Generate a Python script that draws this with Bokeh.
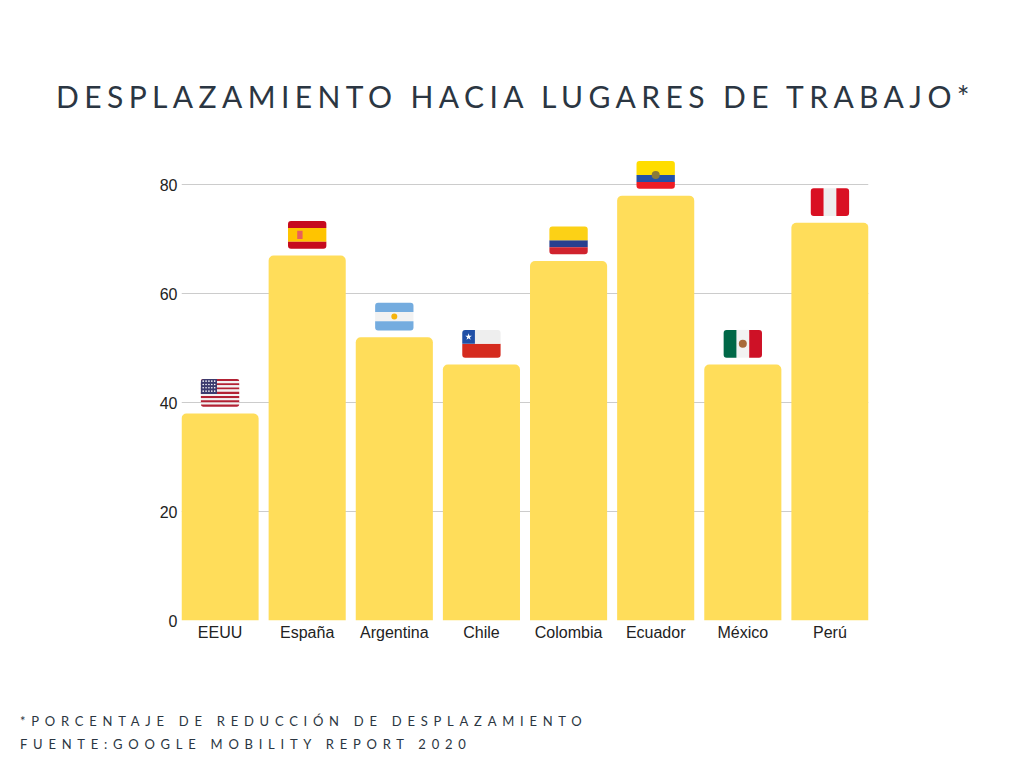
from bokeh.plotting import figure
from bokeh.models import Div, FixedTicker, ColumnDataSource
from bokeh.layouts import column
from bokeh.embed import file_html
from bokeh.resources import INLINE

# ---------------- data ----------------
categories = ["EEUU", "España", "Argentina", "Chile", "Colombia", "Ecuador", "México", "Perú"]
values = [38, 67, 52, 47, 66, 78, 47, 73]
y_ticks = [0, 20, 40, 60, 80]
title_text = "DESPLAZAMIENTO HACIA LUGARES DE TRABAJO*"
note_lines = ["*PORCENTAJE DE REDUCCIÓN DE DESPLAZAMIENTO",
              "FUENTE:GOOGLE MOBILITY REPORT 2020"]

# ---------------- style ----------------
BAR_COLOR = "#FFDD5A"
GRID_COLOR = "#CCCCCC"
TEXT_DARK = "#2B3642"
BAR_W = 0.885
FW = 0.44      # flag width (x units)
FH = 5.1       # flag height (y units)
FLAG_OFF = 3.8 # flag centre above bar top (y units)
R = 3

x_pos = list(range(len(categories)))

p = figure(width=1008, height=542,
           x_range=(-BAR_W / 2, len(categories) - 1 + BAR_W / 2),
           y_range=(0, 85),
           output_backend="svg", toolbar_location=None,
           min_border_left=181, min_border_right=140,
           min_border_top=29, min_border_bottom=50)
p.outline_line_color = None
p.background_fill_color = "white"
p.border_fill_color = "white"

p.xgrid.grid_line_color = None
p.ygrid.grid_line_color = GRID_COLOR
p.ygrid.grid_line_width = 1

p.yaxis.ticker = FixedTicker(ticks=y_ticks)
p.xaxis.ticker = FixedTicker(ticks=x_pos)
p.xaxis.major_label_overrides = {i: c for i, c in zip(x_pos, categories)}
for ax in (p.xaxis, p.yaxis):
    ax.axis_line_color = None
    ax.major_tick_line_color = None
    ax.minor_tick_line_color = None
    ax.major_tick_in = 0
    ax.major_tick_out = 0
    ax.major_label_text_font = "Liberation Sans"
    ax.major_label_text_font_size = "16px"
    ax.major_label_text_color = "#222222"
p.yaxis.major_label_standoff = 4
p.xaxis.major_label_standoff = 3

src = ColumnDataSource(dict(x=x_pos, top=values, name=categories))
p.vbar(x="x", top="top", bottom=0, width=BAR_W, source=src,
       fill_color=BAR_COLOR, line_color=None, border_radius=(5, 5, 0, 0))

# ---------------- flags (decorative, placed above each bar) ----------------
RED_US, WHITE, BLUE_US = "#B22234", "#F2F2F2", "#3C3B6E"
us = []
for k in range(13):
    us.append((0, (0, 1, 1 - (k + 1) / 13, 1 - k / 13, RED_US if k % 2 == 0 else WHITE)))
us.append((1, (0, 0.42, 6 / 13, 1, BLUE_US)))
spain = [(0, (0, 1, 0, 0.25, "#C60B1E")), (0, (0, 1, 0.25, 0.75, "#FFC400")),
         (0, (0, 1, 0.75, 1, "#C60B1E")), (1, (0.24, 0.38, 0.35, 0.65, "#E8605A"))]
argentina = [(0, (0, 1, 0, 1 / 3, "#74ACDF")), (0, (0, 1, 1 / 3, 2 / 3, WHITE)),
             (0, (0, 1, 2 / 3, 1, "#74ACDF"))]
chile = [(0, (0, 1, 0, 0.5, "#D52B1E")), (0, (0, 1, 0.5, 1, "#EEEEEE")),
         (1, (0, 0.33, 0.5, 1, "#1F4FA6"))]
colombia = [(0, (0, 1, 0.5, 1, "#FCD116")), (0, (0, 1, 0.25, 0.5, "#283F8F")),
            (0, (0, 1, 0, 0.25, "#D0232E"))]
ecuador = [(0, (0, 1, 0.5, 1, "#FFDD00")), (0, (0, 1, 0.25, 0.5, "#2350A8")),
           (0, (0, 1, 0, 0.25, "#EE1C25"))]
mexico = [(0, (0, 1 / 3, 0, 1, "#006847")), (0, (1 / 3, 2 / 3, 0, 1, WHITE)),
          (0, (2 / 3, 1, 0, 1, "#CE1126"))]
peru = [(0, (0, 1 / 3, 0, 1, "#D91023")), (0, (1 / 3, 2 / 3, 0, 1, "#EEEEEE")),
        (0, (2 / 3, 1, 0, 1, "#D91023"))]
flag_designs = [us, spain, argentina, chile, colombia, ecuador, mexico, peru]

# small emblems (flag index, fx, fy, marker, size, color)
emblems = [(2, 0.5, 0.5, "circle", 6, "#F6B40E"),
           (3, 0.165, 0.75, "star", 7, "white"),
           (5, 0.5, 0.5, "circle", 8, "#8A7A3A"),
           (6, 0.5, 0.5, "circle", 8, "#A86A3A")]
for r in range(4):
    for c in range(5):
        emblems.append((0, 0.06 + c * 0.075, 0.56 + r * 0.12, "circle", 1.6, "white"))

groups = {}
for i, pieces in enumerate(flag_designs):
    cx = x_pos[i]
    cy = values[i] + FLAG_OFF
    for layer, (fx0, fx1, fy0, fy1, col) in pieces:
        rad = (R if (fx0 == 0 and fy1 == 1) else 0,
               R if (fx1 == 1 and fy1 == 1) else 0,
               R if (fx1 == 1 and fy0 == 0) else 0,
               R if (fx0 == 0 and fy0 == 0) else 0)
        d = groups.setdefault((layer, rad), dict(left=[], right=[], bottom=[], top=[], color=[]))
        d["left"].append(cx - FW / 2 + fx0 * FW)
        d["right"].append(cx - FW / 2 + fx1 * FW)
        d["bottom"].append(cy - FH / 2 + fy0 * FH)
        d["top"].append(cy - FH / 2 + fy1 * FH)
        d["color"].append(col)

for key in sorted(groups):
    p.quad(left="left", right="right", bottom="bottom", top="top",
           fill_color="color", line_color=None, border_radius=key[1],
           source=ColumnDataSource(groups[key]))

em = dict(x=[], y=[], marker=[], size=[], color=[])
for (i, fx, fy, mk, sz, col) in emblems:
    em["x"].append(x_pos[i] - FW / 2 + fx * FW)
    em["y"].append(values[i] + FLAG_OFF - FH / 2 + fy * FH)
    em["marker"].append(mk)
    em["size"].append(sz)
    em["color"].append(col)
p.scatter(x="x", y="y", marker="marker", size="size", fill_color="color",
          line_color=None, source=ColumnDataSource(em))

# ---------------- texts ----------------
title = Div(text=(
    '<div style="margin:0;padding-top:73px;padding-left:13px;box-sizing:border-box;'
    'width:1008px;text-align:center;'
    'font-family:Lato;font-size:30px;line-height:1.2;letter-spacing:5.4px;'
    f'color:{TEXT_DARK};white-space:nowrap;">{title_text}</div>'),
    width=1008, height=118)

footer = Div(text=(
    '<div style="margin:0;padding-top:35px;padding-left:15px;'
    'font-family:Lato;font-size:13px;line-height:23px;letter-spacing:5.75px;'
    f'color:{TEXT_DARK};white-space:nowrap;">' + "<br>".join(note_lines) + '</div>'),
    width=1008, height=90)

layout = column(title, p, footer, spacing=0)
open("out.html", "w").write(file_html(layout, INLINE))
